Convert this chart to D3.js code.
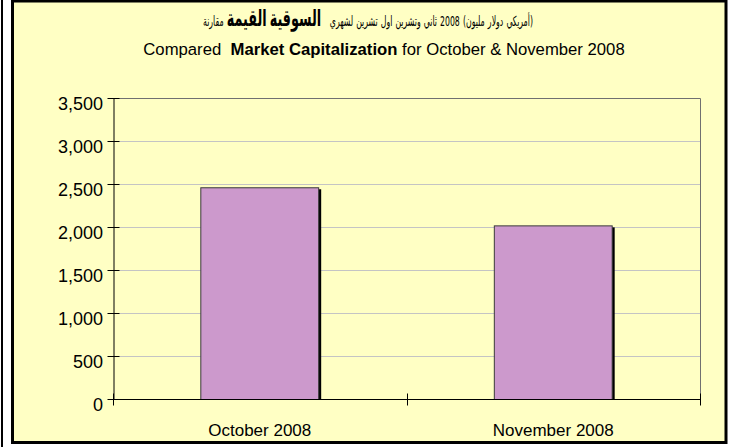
<!DOCTYPE html>
<html>
<head>
<meta charset="utf-8">
<script src="https://cdn.jsdelivr.net/npm/d3@7"></script>
<style>
  html, body { margin: 0; padding: 0; background: #ffffff; }
  svg { display: block; }
</style>
</head>
<body>
<div id="chart"></div>
<script>
// ---- data ----
const categories = ["October 2008", "November 2008"];
const marketCap = [2462, 2019];
const yTicks = [0, 500, 1000, 1500, 2000, 2500, 3000, 3500];
const titleArabicWords = [
  {t: "مقارنة", bold: false},
  {t: "القيمة السوقية", bold: true},
  {t: "لشهري تشرين اول وتشرين ثاني", bold: false},
  {t: "2008", bold: false},
  {t: "(مليون دولار أمريكي)", bold: false}
];
const titleEnglish = [
  {t: "Compared\u00A0 ", bold: false},
  {t: "Market Capitalization", bold: true},
  {t: " for October & November 2008", bold: false}
];

// ---- layout ----
const W = 732, H = 447;
const plot = {left: 113, right: 700, top: 98, bottom: 399};
const bg = "#FFFFC4";
const font = "'Liberation Sans', Arial, Helvetica, sans-serif";

const svg = d3.select("#chart").append("svg")
  .attr("width", W).attr("height", H);

// outer thin line at far left
svg.append("rect").attr("x", 1).attr("y", 0).attr("width", 2).attr("height", H).attr("fill", "#000");

// chart frame
svg.append("rect")
  .attr("x", 12.5).attr("y", 1).attr("width", 713.5).attr("height", 441.5)
  .attr("fill", bg).attr("stroke", "#000").attr("stroke-width", 3);

const x = d3.scaleBand().domain(categories).range([plot.left, plot.right]).padding(0);
const y = d3.scaleLinear().domain([0, 3500]).range([plot.bottom, plot.top]);

// gridlines
svg.append("g").selectAll("line").data(yTicks.filter(d => d > 0 && d < 3500)).join("line")
  .attr("x1", plot.left).attr("x2", plot.right)
  .attr("y1", d => y(d) + 0.5).attr("y2", d => y(d) + 0.5)
  .attr("stroke", "#C4C4C4").attr("stroke-width", 1);

// plot area border (top/right gray)
svg.append("path")
  .attr("d", `M${plot.left},${y(3500) + 0.5}H${plot.right + 0.5}V${plot.bottom}`)
  .attr("fill", "none").attr("stroke", "#707070").attr("stroke-width", 1);

// bars
const barFrac = 0.405;
const bw = x.bandwidth() * barFrac;
const bars = svg.append("g");
bars.selectAll("rect.shadow").data(marketCap).join("rect").attr("class", "shadow")
  .attr("x", (d, i) => x(categories[i]) + (x.bandwidth() - bw) / 2 + 2)
  .attr("y", d => y(d) + 2)
  .attr("width", bw)
  .attr("height", d => y(0) - y(d) - 2)
  .attr("fill", "#000");
bars.selectAll("rect.bar").data(marketCap).join("rect").attr("class", "bar")
  .attr("x", (d, i) => x(categories[i]) + (x.bandwidth() - bw) / 2 + 0.5)
  .attr("y", d => y(d) + 0.5)
  .attr("width", bw - 1)
  .attr("height", d => y(0) - y(d))
  .attr("fill", "#CC99CC")
  .attr("stroke", "#3a3a3a").attr("stroke-width", 1);

// y axis
const yAxis = d3.axisLeft(y).tickValues(yTicks).tickFormat(d3.format(",")).tickSizeInner(6).tickSizeOuter(0).tickPadding(10);
const gy = svg.append("g").attr("transform", `translate(${plot.left + 0.5},0)`).call(yAxis);
gy.select(".domain").attr("stroke", "#000");
gy.selectAll(".tick line").attr("x1", -6).attr("x2", 6).attr("stroke", "#000");
gy.selectAll(".tick text")
  .attr("font-family", font).attr("font-size", 18).attr("fill", "#000")
  .attr("dy", "0.62em").attr("x", -10.5);

// x axis
const gx = svg.append("g").attr("transform", `translate(0,${plot.bottom + 0.5})`);
gx.append("line").attr("x1", plot.left).attr("x2", plot.right + 1).attr("y1", 0).attr("y2", 0).attr("stroke", "#000");
const boundaries = categories.map(c => x(c)).concat([x(categories[categories.length - 1]) + x.bandwidth()]);
gx.selectAll("line.tk").data(boundaries).join("line").attr("class", "tk")
  .attr("x1", d => Math.round(d) + 0.5).attr("x2", d => Math.round(d) + 0.5)
  .attr("y1", -6).attr("y2", 6).attr("stroke", "#000");
gx.selectAll("text").data(categories).join("text")
  .attr("x", d => x(d) + x.bandwidth() / 2)
  .attr("y", 36.5)
  .attr("text-anchor", "middle")
  .attr("font-family", font).attr("font-size", 17).attr("fill", "#000")
  .text(d => d);

// English title line
const te = svg.append("text").attr("x", 384).attr("y", 55)
  .attr("text-anchor", "middle").attr("font-family", font).attr("fill", "#000");
te.selectAll("tspan").data(titleEnglish).join("tspan")
  .attr("font-weight", d => d.bold ? "bold" : "normal")
  .attr("font-size", 16.5)
  .text(d => d.t);
{
  const w = te.node().getComputedTextLength();
  if (w > 0) te.selectAll("tspan").attr("font-size", 16.5 * 482 / w);
}

// Arabic title line: each word placed left-to-right, as in the original picture
const arFont = "'DejaVu Sans Condensed', 'DejaVu Sans', 'Liberation Sans', Arial, sans-serif";
const arWords = [];
titleArabicWords.forEach((p, pi) => p.t.split(" ").forEach((w, wi, arr) =>
  arWords.push({t: w, bold: p.bold, gapAfter: (wi === arr.length - 1 && p.bold) ? 14 : 5})));
const arCx = 368, arTarget = 330;
const ga = svg.append("g");
const wordNodes = ga.selectAll("text").data(arWords).join("text")
  .attr("y", 26)
  .attr("font-family", arFont)
  .attr("font-weight", d => d.bold ? "bold" : "normal")
  .attr("font-size", d => d.bold ? 23 : 14)
  .attr("fill", "#000")
  .text(d => d.t);
{
  const widths = wordNodes.nodes().map(n => n.getComputedTextLength());
  const total = widths.reduce((a, b) => a + b, 0) + arWords.slice(0, -1).reduce((a, d) => a + d.gapAfter, 0);
  let cx = -total / 2;
  wordNodes.each(function(d, i) {
    d3.select(this).attr("x", cx);
    cx += widths[i] + d.gapAfter;
  });
  const k = Math.min(1, arTarget / total);
  ga.attr("transform", `translate(${arCx},0) scale(${k},1)`);
}
</script>
</body>
</html>
